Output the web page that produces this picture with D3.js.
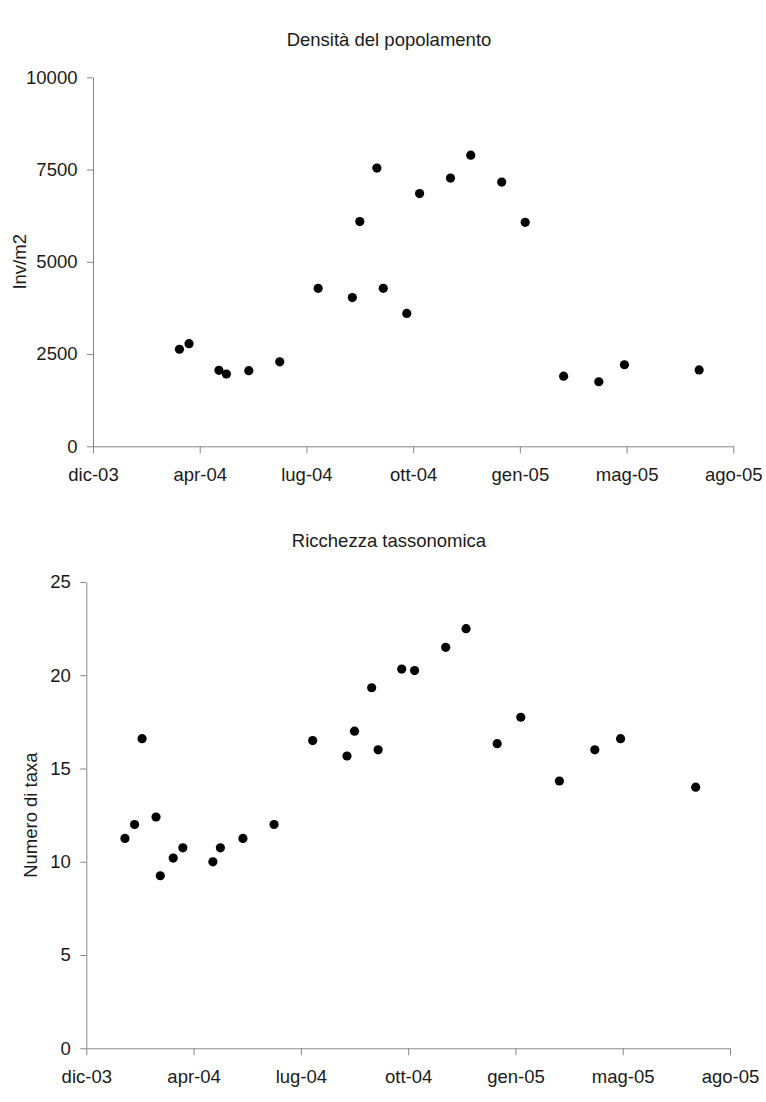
<!DOCTYPE html>
<meta charset="utf-8">
<head>
    <title>Densità e ricchezza tassonomica</title>
</head>
<style>
body { margin: 0; background: #fff; }
svg text { font-family: "Liberation Sans", Arial, sans-serif; fill: #1a1a1a; }
.axis path, .axis line { stroke: #868686; stroke-width: 1; }
</style>

<script src="https://d3js.org/d3.v7.min.js"></script>

<div id="charts"></div>

<script>
// sampling dates (both charts share them, density starts at the 6th)
var sampleDates = ["2004-01-30","2004-02-08","2004-02-15","2004-02-28","2004-03-03",
  "2004-03-15","2004-03-24","2004-04-21","2004-04-28","2004-05-19","2004-06-17",
  "2004-07-23","2004-08-24","2004-08-31","2004-09-16","2004-09-22","2004-10-14",
  "2004-10-26","2004-11-24","2004-12-13","2005-01-11","2005-02-02","2005-03-10",
  "2005-04-12","2005-05-06","2005-07-15"];

// Inv/m2, no sample for the first five dates
var density = [null, null, null, null, null,
  2630, 2780, 2060, 1960, 2050, 2290, 4280, 4030, 6090, 7540, 4280,
  3600, 6850, 7270, 7890, 7160, 6070, 1900, 1750, 2210, 2070];

// numero di taxa
var taxa = [11.25, 12, 16.6, 12.4, 9.25, 10.2, 10.75, 10, 10.75, 11.25, 12,
  16.5, 15.67, 17, 19.33, 16, 20.33, 20.25, 21.5, 22.5, 16.33, 17.75,
  14.33, 16, 16.6, 14];

// x axis: excel style, one tick every 100 days
var xTickDates = ["2003-12-25","2004-04-03","2004-07-12","2004-10-20",
  "2005-01-28","2005-05-08","2005-08-16"];
var xTickLabels = ["dic-03","apr-04","lug-04","ott-04","gen-05","mag-05","ago-05"];

var densityTicks = [0, 2500, 5000, 7500, 10000];
var taxaTicks = [0, 5, 10, 15, 20, 25];

var parse = d3.utcParse("%Y-%m-%d");
var fs = 18.5;

var svg = d3.select("#charts")
  .append("svg")
    .attr("width", 766)
    .attr("height", 1102);

function drawChart(opt) {
  var x = d3.scaleUtc()
      .domain([parse(xTickDates[0]), parse(xTickDates[xTickDates.length - 1])])
      .range([opt.left, opt.right]);
  var y = d3.scaleLinear()
      .domain([0, opt.ticks[opt.ticks.length - 1]])
      .range([opt.bottom, opt.top]);

  // title
  svg.append("text")
      .attr("x", 389)
      .attr("y", opt.titleY)
      .attr("text-anchor", "middle")
      .style("font-size", fs + "px")
      .text(opt.title);

  // y axis
  var yAxis = svg.append("g")
      .attr("class", "axis")
      .attr("transform", "translate(" + opt.left + ",0)")
      .call(d3.axisLeft(y).tickValues(opt.ticks).tickSize(6).tickSizeOuter(0).tickPadding(9.5)
        .tickFormat(d3.format("d")));
  yAxis.selectAll("text").style("font-size", fs + "px").attr("fill", null);

  // x axis
  var xAxis = svg.append("g")
      .attr("class", "axis")
      .attr("transform", "translate(0," + opt.bottom + ")")
      .call(d3.axisBottom(x).tickValues(xTickDates.map(parse)).tickSize(7).tickSizeOuter(0)
        .tickPadding(15).tickFormat(function(d, i) { return xTickLabels[i]; }));
  xAxis.selectAll("text").style("font-size", fs + "px").attr("fill", null);

  // y label
  svg.append("text")
      .attr("transform", "translate(" + opt.labelX + "," + ((opt.top + opt.bottom) / 2) + ")rotate(-90)")
      .attr("text-anchor", "middle")
      .style("font-size", fs + "px")
      .text(opt.label);

  // points
  var pts = sampleDates.map(function(d, i) { return {date: parse(d), v: opt.values[i]}; })
      .filter(function(d) { return d.v != null; });
  svg.append("g")
    .selectAll("circle")
    .data(pts)
    .enter()
    .append("circle")
      .attr("cx", function(d) { return x(d.date); })
      .attr("cy", function(d) { return y(d.v); })
      .attr("r", 4.6)
      .attr("fill", "#000");
}

drawChart({title: "Densità del popolamento", titleY: 46, label: "Inv/m2", labelX: 26,
  values: density, ticks: densityTicks, left: 93, right: 733.3, top: 77.3, bottom: 446.3});

drawChart({title: "Ricchezza tassonomica", titleY: 547, label: "Numero di taxa", labelX: 36.5,
  values: taxa, ticks: taxaTicks, left: 86.3, right: 730, top: 582, bottom: 1048.3});
</script>
